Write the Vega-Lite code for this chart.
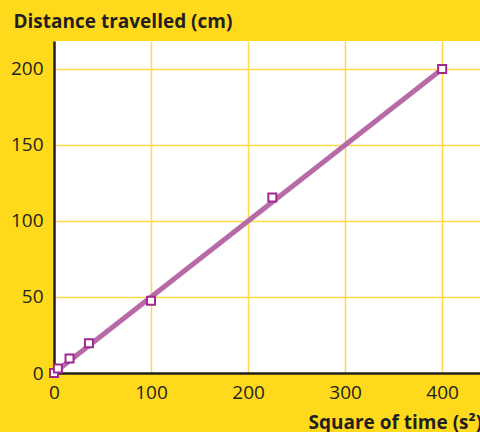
{
  "$schema": "https://vega.github.io/schema/vega-lite/v6.json",
  "width": 426,
  "height": 332,
  "autosize": {"type": "none"},
  "padding": {"left": 54, "top": 41, "right": 0, "bottom": 59},
  "background": "#ffda1c",
  "config": {
    "view": {"fill": "white", "stroke": null},
    "font": "Open Sans",
    "axis": {
      "domainColor": "#231f20",
      "domainWidth": 2.5,
      "ticks": false,
      "gridColor": "#ffd84a",
      "gridWidth": 1.5,
      "gridOpacity": 1,
      "labelFont": "Open Sans",
      "labelFontSize": 19,
      "labelColor": "#231f20",
      "titleFont": "Open Sans",
      "titleFontWeight": "bold",
      "titleFontSize": 19,
      "titleColor": "#231f20"
    }
  },
  "datasets": {
    "points": [
      {"t2": 0, "d": 0},
      {"t2": 4, "d": 3},
      {"t2": 16, "d": 9.5},
      {"t2": 36, "d": 19.5},
      {"t2": 100, "d": 47.5},
      {"t2": 225, "d": 115.5},
      {"t2": 400, "d": 200}
    ],
    "fit": [
      {"t2": 0, "d": 0},
      {"t2": 400, "d": 200}
    ]
  },
  "layer": [
    {
      "data": {"name": "fit"},
      "mark": {"type": "line", "color": "#b86aa8", "strokeWidth": 5},
      "encoding": {
        "x": {
          "field": "t2", "type": "quantitative",
          "scale": {"domain": [0, 439], "nice": false},
          "axis": {
            "values": [0, 100, 200, 300, 400],
            "labelPadding": 10,
            "title": "Square of time (s²)",
            "titleAlign": "left",
            "titleAnchor": "start",
            "titleX": 254,
            "titleY": 55,
            "titleBaseline": "alphabetic",
            "labelFlush": false
          }
        },
        "y": {
          "field": "d", "type": "quantitative",
          "scale": {"domain": [0, 218.4], "nice": false},
          "axis": {
            "values": [0, 50, 100, 150, 200],
            "labelPadding": 11,
            "title": "Distance travelled (cm)",
            "titleAngle": 0,
            "titleAlign": "left",
            "titleAnchor": "start",
            "titleX": -41,
            "titleY": -14,
            "titleBaseline": "alphabetic",
            "labelFlush": false
          }
        }
      }
    },
    {
      "data": {"name": "points"},
      "mark": {"type": "square", "filled": false, "fill": "white", "stroke": "#a0288f", "strokeWidth": 2, "size": 64, "opacity": 1},
      "encoding": {
        "x": {"field": "t2", "type": "quantitative"},
        "y": {"field": "d", "type": "quantitative"}
      }
    }
  ]
}
